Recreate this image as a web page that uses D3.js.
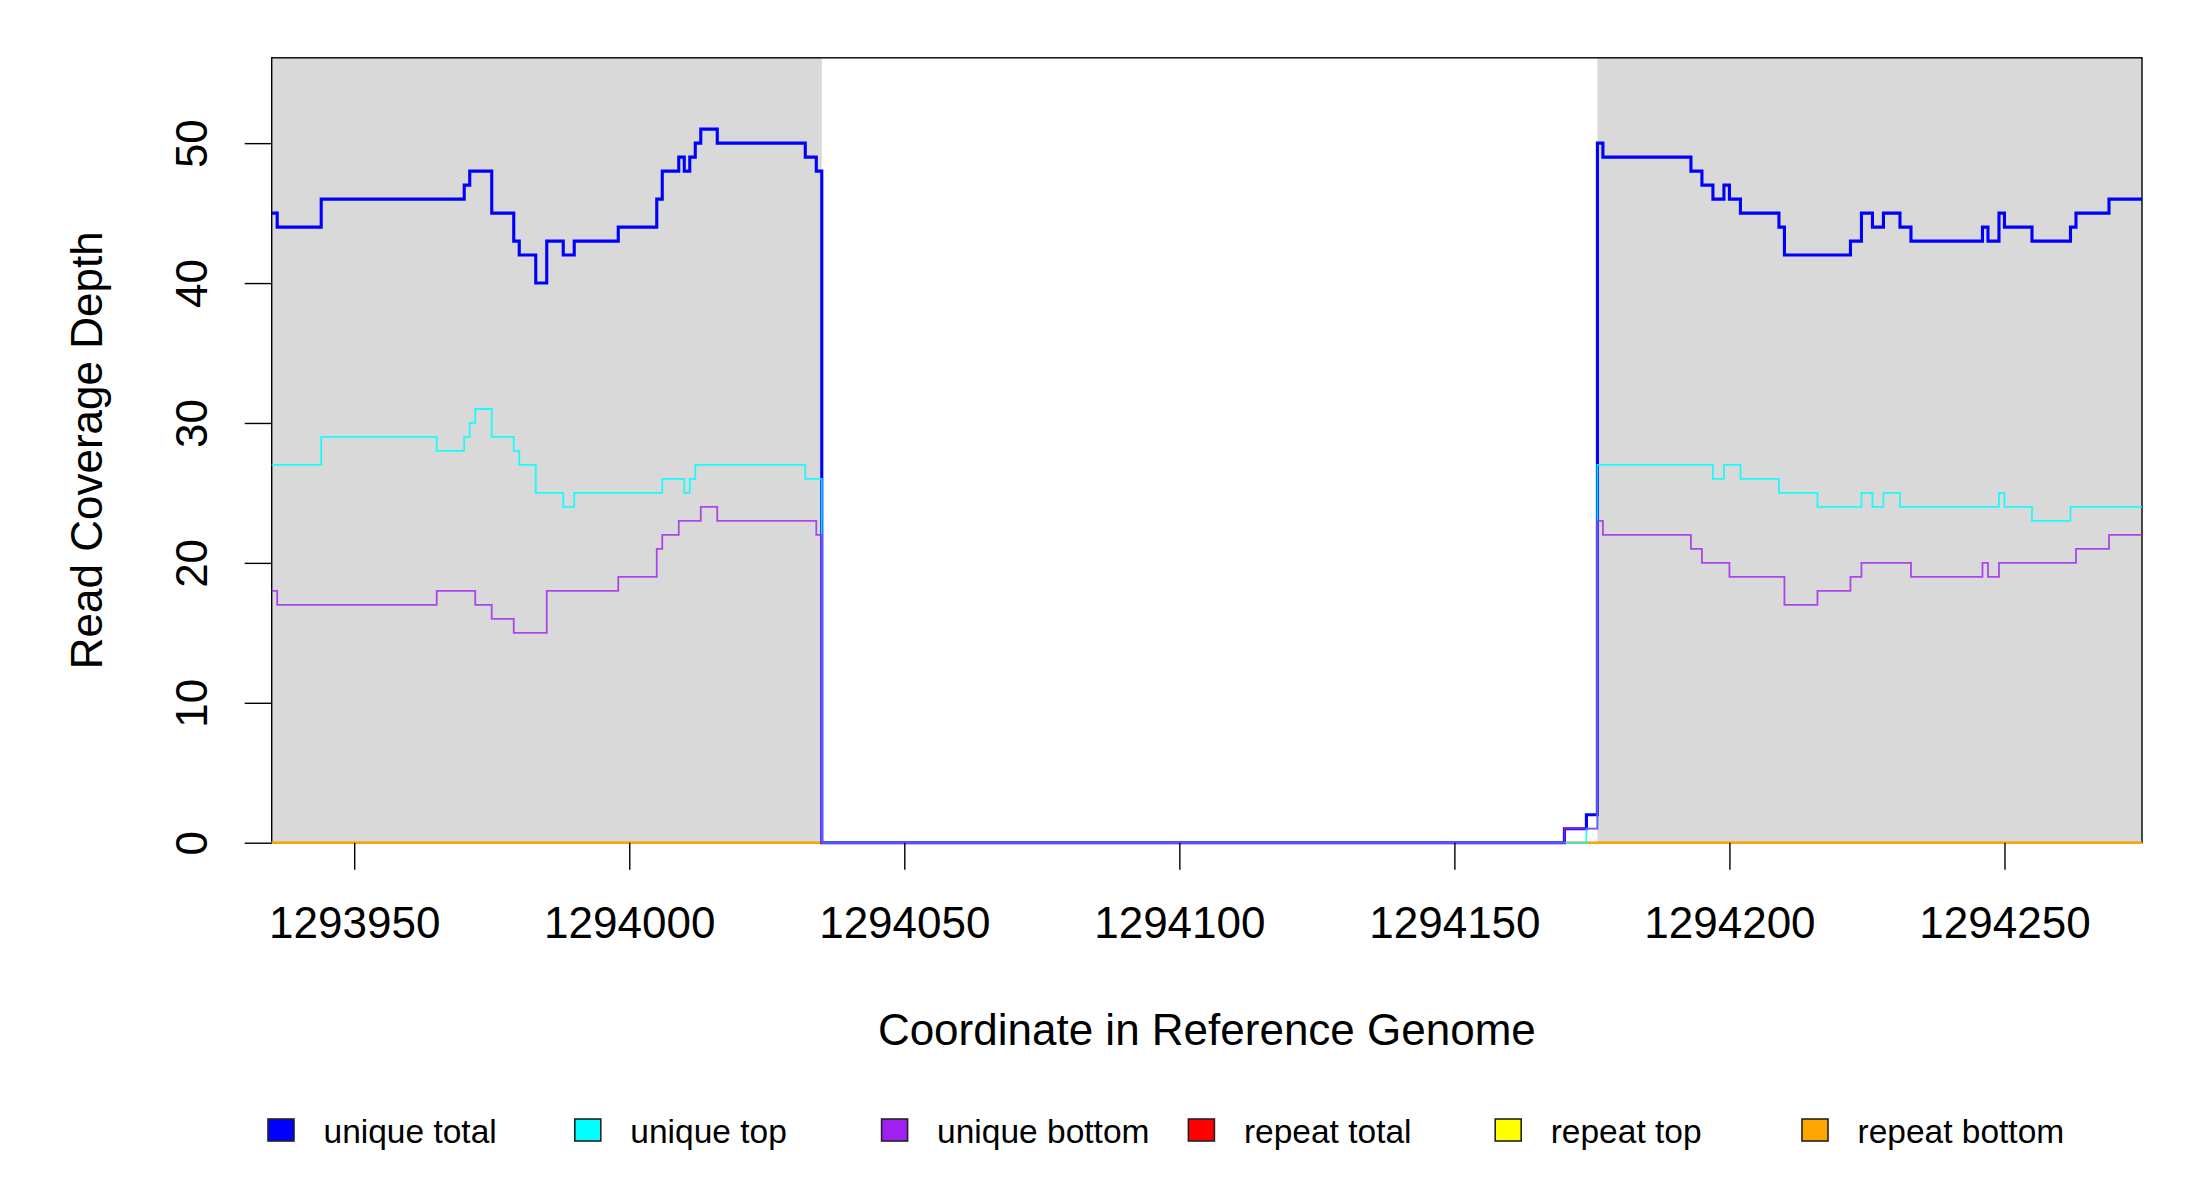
<!DOCTYPE html>
<html>
<head>
<meta charset="utf-8">
<script src="https://cdn.jsdelivr.net/npm/d3@7"></script>
<style>
  body { margin: 0; background: #fff; }
  text { font-family: 'Liberation Sans', Arial, sans-serif; fill: #000; }
</style>
</head>
<body>
<div id="cov"></div>
<script>
// x range and ticks
let xDomain = [1293935, 1294275]
let yTop = 56.1
let xTicks = [1293950, 1294000, 1294050, 1294100, 1294150, 1294200, 1294250]
let yTicks = [0, 10, 20, 30, 40, 50]

// grey flanking regions
let shadedRegions = [[1293935, 1294035], [1294176, 1294275]]

// step data, [position, depth] at each change
let uniqueTotal = [
  [1293935, 45], [1293936, 44], [1293944, 46], [1293970, 47], [1293971, 48], [1293975, 45],
  [1293979, 43], [1293980, 42], [1293983, 40], [1293985, 43], [1293988, 42], [1293990, 43],
  [1293998, 44], [1294005, 46], [1294006, 48], [1294009, 49], [1294010, 48], [1294011, 49],
  [1294012, 50], [1294013, 51], [1294016, 50], [1294032, 49], [1294034, 48], [1294035, 0],
  [1294170, 1], [1294174, 2], [1294176, 50], [1294177, 49], [1294193, 48], [1294195, 47],
  [1294197, 46], [1294199, 47], [1294200, 46], [1294202, 45], [1294209, 44], [1294210, 42],
  [1294222, 43], [1294224, 45], [1294226, 44], [1294228, 45], [1294231, 44], [1294233, 43],
  [1294246, 44], [1294247, 43], [1294249, 45], [1294250, 44], [1294255, 43], [1294262, 44],
  [1294263, 45], [1294269, 46], [1294275, 46]
]
let uniqueTop = [
  [1293935, 27], [1293944, 29], [1293965, 28], [1293970, 29], [1293971, 30], [1293972, 31],
  [1293975, 29], [1293979, 28], [1293980, 27], [1293983, 25], [1293988, 24], [1293990, 25],
  [1294006, 26], [1294010, 25], [1294011, 26], [1294012, 27], [1294032, 26], [1294035, 0],
  [1294174, 1], [1294176, 27], [1294197, 26], [1294199, 27], [1294202, 26], [1294209, 25],
  [1294216, 24], [1294224, 25], [1294226, 24], [1294228, 25], [1294231, 24], [1294249, 25],
  [1294250, 24], [1294255, 23], [1294262, 24], [1294275, 24]
]
let uniqueBottom = [
  [1293935, 18], [1293936, 17], [1293965, 18], [1293972, 17], [1293975, 16], [1293979, 15],
  [1293985, 18], [1293998, 19], [1294005, 21], [1294006, 22], [1294009, 23], [1294013, 24],
  [1294016, 23], [1294034, 22], [1294035, 0], [1294170, 1], [1294176, 23], [1294177, 22],
  [1294193, 21], [1294195, 20], [1294200, 19], [1294210, 17], [1294216, 18], [1294222, 19],
  [1294224, 20], [1294233, 19], [1294246, 20], [1294247, 19], [1294249, 20], [1294263, 21],
  [1294269, 22], [1294275, 22]
]
let repeatTotal = [[1293935, 0], [1294275, 0]]
let repeatTop = [[1293935, 0], [1294275, 0]]
let repeatBottom = [[1293935, 0], [1294275, 0]]

let legendNames = ['unique total', 'unique top', 'unique bottom', 'repeat total', 'repeat top', 'repeat bottom']
let legendColors = ['#0000ff', '#00ffff', '#a020f0', '#ff0000', '#ffff00', '#ffa500']

var width = 2200
var height = 1200
var plotLeft = 271.7
var plotRight = 2142
var plotTop = 57.8
var plotBottom = 842.7

var x = d3.scaleLinear().domain(xDomain).range([plotLeft, plotRight])
var y = d3.scaleLinear().domain([0, yTop]).range([plotBottom, plotTop])

var svg = d3.select('#cov')
  .append('svg')
  .attr('width', width)
  .attr('height', height)

svg.append('rect').attr('width', width).attr('height', height).attr('fill', '#fff')

svg.selectAll('rect.shade')
  .data(shadedRegions)
  .enter().append('rect')
  .attr('class', 'shade')
  .attr('x', d => x(d[0]))
  .attr('y', plotTop)
  .attr('width', d => x(d[1]) - x(d[0]))
  .attr('height', plotBottom - plotTop)
  .attr('fill', '#d9d9d9')

// plot box
svg.append('rect')
  .attr('x', plotLeft).attr('y', plotTop)
  .attr('width', plotRight - plotLeft).attr('height', plotBottom - plotTop)
  .attr('fill', 'none').attr('stroke', '#000').attr('stroke-width', 1.4)

var stepLine = d3.line()
  .x(d => x(d[0]))
  .y(d => y(d[1]))
  .curve(d3.curveStepAfter)

// repeat series first, unique series over them
let series = [
  {data: repeatTotal, color: '#ff0000', w: 1.8, op: 1},
  {data: repeatTop, color: '#ffff00', w: 1.8, op: 1},
  {data: repeatBottom, color: '#ffa500', w: 1.8, op: 1},
  {data: uniqueTotal, color: '#0000ff', w: 3.1, op: 1},
  {data: uniqueTop, color: '#00ffff', w: 1.8, op: 0.88},
  {data: uniqueBottom, color: '#a020f0', w: 1.8, op: 0.8}
]
svg.selectAll('path.cov')
  .data(series)
  .enter().append('path')
  .attr('class', 'cov')
  .attr('d', d => stepLine(d.data))
  .attr('fill', 'none')
  .attr('stroke', d => d.color)
  .attr('stroke-width', d => d.w)
  .attr('stroke-opacity', d => d.op)

// x axis
var xAxis = svg.append('g')
  .attr('transform', 'translate(0,' + plotBottom + ')')
  .call(d3.axisBottom(x).tickValues(xTicks).tickSize(27).tickFormat(d3.format('d')))
xAxis.select('.domain').remove()
xAxis.selectAll('line').attr('stroke', '#000').attr('stroke-width', 1.4)
xAxis.selectAll('text')
  .attr('y', 95.6).attr('dy', null)
  .attr('font-size', 44)
  .attr('font-family', "'Liberation Sans', Arial, sans-serif")
  .attr('fill', '#000')

// y axis, labels turned like R's
var yAxis = svg.append('g')
  .attr('transform', 'translate(' + plotLeft + ',0)')
  .call(d3.axisLeft(y).tickValues(yTicks).tickSize(27))
yAxis.select('.domain').remove()
yAxis.selectAll('line').attr('stroke', '#000').attr('stroke-width', 1.4)
yAxis.selectAll('text')
  .attr('transform', 'rotate(-90)')
  .attr('x', 0).attr('y', -64.4).attr('dy', null)
  .attr('text-anchor', 'middle')
  .attr('font-size', 44)
  .attr('font-family', "'Liberation Sans', Arial, sans-serif")
  .attr('fill', '#000')

svg.append('text')
  .attr('x', (plotLeft + plotRight) / 2)
  .attr('y', 1045)
  .attr('text-anchor', 'middle')
  .attr('font-size', 44)
  .text('Coordinate in Reference Genome')

svg.append('text')
  .attr('transform', 'translate(101.5,' + (plotTop + plotBottom) / 2 + ') rotate(-90)')
  .attr('text-anchor', 'middle')
  .attr('font-size', 44)
  .text('Read Coverage Depth')

// legend along the bottom
var legend = svg.selectAll('g.leg')
  .data(legendNames)
  .enter().append('g')
  .attr('class', 'leg')
  .attr('transform', (d, i) => 'translate(' + (268 + i * 306.8) + ',1119)')
legend.append('rect')
  .attr('width', 26).attr('height', 22)
  .attr('fill', (d, i) => legendColors[i])
  .attr('stroke', '#222').attr('stroke-width', 1.6)
legend.append('text')
  .attr('x', 55.5).attr('y', 23.5)
  .attr('font-size', 33.5)
  .text(d => d)
</script>
</body>
</html>
